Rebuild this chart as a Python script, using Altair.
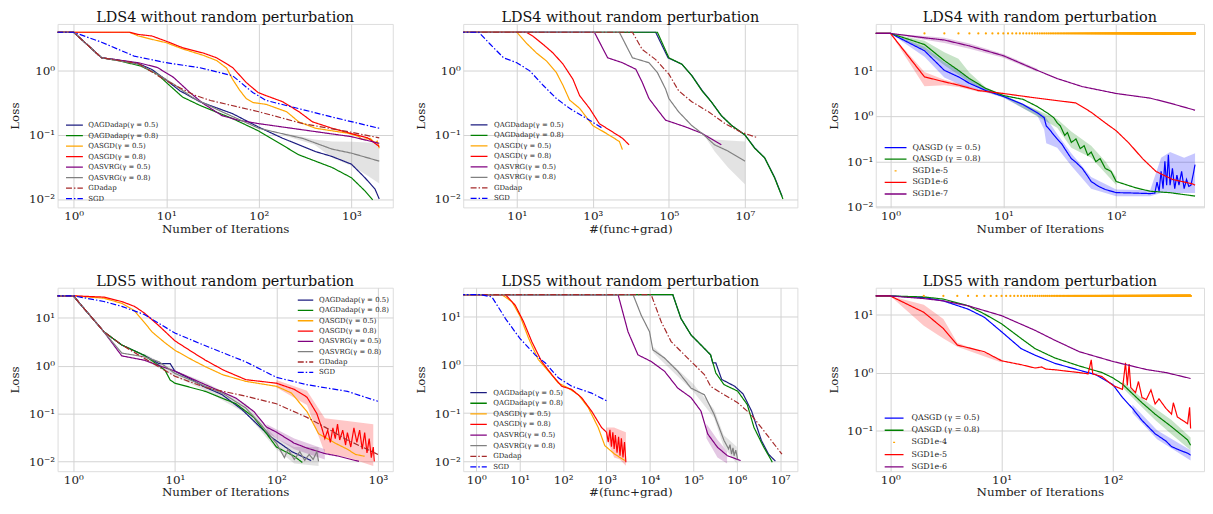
import altair as alt
import pandas as pd

FONT = "DejaVu Serif"

NAMES_A = ["QAGDadap(γ = 0.5)", "QAGDadap(γ = 0.8)", "QASGD(γ = 0.5)", "QASGD(γ = 0.8)",
           "QASVRG(γ = 0.5)", "QASVRG(γ = 0.8)", "GDadap", "SGD"]
COLORS_A = ["#1c1c80", "#008000", "#ffa500", "#ff0000", "#800080", "#808080", "#a52a2a", "#0000ff"]
DASHES_A = [[1, 0]] * 6 + [[6, 2, 1.5, 2]] * 2

NAMES_3 = ["QASGD (γ = 0.5)", "QASGD (γ = 0.8)", "SGD1e-5", "SGD1e-6", "SGD1e-7"]
NAMES_6 = ["QASGD (γ = 0.5)", "QASGD (γ = 0.8)", "SGD1e-4", "SGD1e-5", "SGD1e-6"]
COLORS_B = ["#0000ff", "#008000", "#ffa500", "#ff0000", "#800080"]
DASHES_B3 = [[1, 0], [1, 0], [0, 10, 2, 40], [1, 0], [1, 0]]
DASHES_B6 = [[1, 0], [1, 0], [0, 8.5, 2, 40], [1, 0], [1, 0]]

P1_QAGD05 = [(0.5, 4.0), (1, 4.0), (2, 1.6), (3, 1.48), (5, 1.3), (7, 1.05), (10, 0.72), (14, 0.49), (23, 0.33),
             (52, 0.215), (98, 0.134), (180, 0.089), (410, 0.055), (620, 0.046), (1000, 0.035), (1400, 0.0215),
             (1800, 0.0143), (2000, 0.0100)]
P1_QAGD08 = [(0.5, 4.0), (1, 4.0), (2, 1.6), (3, 1.45), (5.3, 1.19), (8, 0.89), (10, 0.66), (15, 0.39), (23, 0.29),
             (52, 0.18), (100, 0.115), (270, 0.049), (620, 0.031), (1000, 0.0215), (1400, 0.0134), (1700, 0.0097)]
P1_QASGD05 = [(0.5, 4.0), (4, 4.0), (5, 3.5), (7, 3.1), (10, 2.75), (15, 2.2), (25, 1.75), (35, 1.45), (45, 1.1),
              (52, 0.74), (62, 0.5), (73, 0.37), (87, 0.32), (120, 0.3), (200, 0.23), (270, 0.16), (410, 0.127),
              (930, 0.106), (1200, 0.095), (1300, 0.085), (1600, 0.088), (1800, 0.075), (1900, 0.08), (2000, 0.062)]
P1_QASGD08 = [(0.5, 4.0), (4, 4.0), (5, 3.7), (7, 3.5), (10, 2.9), (15, 2.3), (25, 1.9), (35, 1.6), (52, 1.13),
              (73, 0.66), (98, 0.46), (120, 0.41), (181, 0.33), (272, 0.23), (380, 0.16), (620, 0.127),
              (1000, 0.105), (1500, 0.09), (2000, 0.066)]
P1_QASVRG05 = [(0.5, 4.0), (1, 4.0), (2, 1.6), (5, 1.34), (8, 1.13), (12, 0.79), (18, 0.46), (25, 0.31), (40, 0.2),
               (60, 0.17), (100, 0.15), (300, 0.12), (1000, 0.094), (2000, 0.074)]
P1_QASVRG08 = [(0.5, 4.0), (1, 4.0), (2, 1.6), (5, 1.27), (8, 0.89), (12, 0.62), (20, 0.37), (40, 0.23),
               (100, 0.127), (300, 0.088), (620, 0.06), (1000, 0.052), (2000, 0.039)]
P1_GDADAP = [(0.5, 4.0), (1, 4.0), (2, 1.6), (5, 1.3), (10, 0.7), (20, 0.42), (30, 0.345), (100, 0.23), (300, 0.15),
             (1000, 0.11), (2000, 0.09)]
P1_SGD = [(0.5, 4.0), (1, 4.0), (2, 2.8), (4.5, 1.7), (10, 1.34), (23, 1.12), (52, 0.84), (86, 0.46), (120, 0.345),
          (272, 0.257), (620, 0.19), (2000, 0.127)]
P1_BAND_QASVRG08 = [(200, 0.095, 0.105), (400, 0.07, 0.085), (620, 0.044, 0.079), (1000, 0.033, 0.078),
                    (1500, 0.023, 0.076), (2000, 0.0175, 0.074)]

P2_QAGD05 = [(0.3, 4.0), (45000, 4.0), (9.5e4, 1.6), (2.2e5, 1.27), (4e5, 0.85), (7.4e5, 0.5), (1.3e6, 0.33),
             (2.4e6, 0.2), (4.5e6, 0.14), (1e7, 0.1), (1.8e7, 0.063), (3.3e7, 0.044), (6e7, 0.022), (9.5e7, 0.011)]
P2_QAGD08 = [(0.3, 4.0), (50000, 4.0), (1e5, 1.6), (2.2e5, 1.27), (4e5, 0.84), (7.4e5, 0.49), (1.3e6, 0.33),
             (2.4e6, 0.2), (4.5e6, 0.14), (1e7, 0.1), (1.8e7, 0.062), (3.3e7, 0.044), (6e7, 0.0215), (1e8, 0.01)]
P2_QASGD05 = [(0.3, 4.0), (10, 4.0), (18, 2.7), (33, 1.9), (61, 1.42), (110, 0.94), (165, 0.59), (245, 0.35),
              (450, 0.26), (1000, 0.14), (2250, 0.106), (5000, 0.079), (6000, 0.059)]
P2_QASGD08 = [(0.3, 4.0), (18, 4.0), (27, 3.45), (50, 2.57), (90, 1.9), (165, 1.27), (300, 0.74), (450, 0.41),
              (820, 0.26), (1480, 0.15), (2700, 0.12), (6000, 0.089), (9000, 0.07)]
P2_QASVRG05 = [(0.3, 4.0), (1100, 4.0), (2450, 1.6), (6000, 1.34), (13500, 1.06), (20000, 0.66), (30000, 0.37),
               (55000, 0.23), (82000, 0.17), (2.7e5, 0.134), (7.4e5, 0.106), (2.4e6, 0.07)]
P2_QASVRG08 = [(0.3, 4.0), (5000, 4.0), (11000, 1.6), (30000, 1.34), (50000, 0.94), (82000, 0.52), (1e5, 0.37),
               (1.8e5, 0.23), (4e5, 0.14), (7.4e5, 0.106), (1.6e6, 0.07), (3.6e6, 0.056), (1e7, 0.039)]
P2_GDADAP = [(0.3, 4.0), (11000, 4.0), (20000, 2.15), (45000, 1.5), (1e5, 0.89), (1.8e5, 0.49), (4e5, 0.33),
             (1.1e6, 0.23), (3e6, 0.15), (8e6, 0.11), (2.2e7, 0.09)]
P2_SGD = [(0.3, 4.0), (1, 4.0), (2, 2.6), (4.5, 1.6), (10, 1.34), (22, 1.0), (50, 0.59), (110, 0.37), (245, 0.26),
          (820, 0.17), (1800, 0.127)]
P2_BAND_QASVRG08 = [(1e6, 0.085, 0.1), (1.6e6, 0.055, 0.085), (3.6e6, 0.031, 0.082), (1e7, 0.017, 0.079)]

P3_QASGD05 = [(0.5, 65), (1, 65), (2, 27), (3, 10), (4, 7.2), (5, 5.2), (7, 3.6), (10, 2.67), (15, 1.77), (20, 1.17),
              (23, 0.91), (24, 0.6), (26, 0.48), (28, 0.38), (30, 0.31), (33, 0.24), (35, 0.19), (40, 0.115),
              (44, 0.095), (50, 0.07), (55, 0.05), (60, 0.036), (70, 0.028), (80, 0.024), (100, 0.0205),
              (150, 0.02), (200, 0.0195), (220, 0.02), (230, 0.035), (240, 0.022), (250, 0.06), (260, 0.025),
              (270, 0.1), (280, 0.03), (290, 0.14), (300, 0.03), (315, 0.07), (330, 0.025), (345, 0.05),
              (360, 0.03), (380, 0.06), (400, 0.025), (420, 0.04), (440, 0.028), (460, 0.03), (480, 0.05),
              (500, 0.085)]
P3_QASGD08 = [(0.5, 65), (1, 65), (2, 37), (3, 16.4), (4, 10), (5, 6.6), (7, 4.0), (10, 2.8), (15, 2.3), (20, 1.6),
              (25, 1.12), (28, 0.91), (30, 0.7), (32, 0.6), (35, 0.37), (37, 0.43), (40, 0.26), (44, 0.31),
              (48, 0.19), (52, 0.22), (56, 0.136), (60, 0.16), (66, 0.098), (72, 0.115), (80, 0.07), (90, 0.06),
              (100, 0.036), (150, 0.026), (200, 0.022), (300, 0.0204), (500, 0.0172)]
P3_SGD6 = [(0.5, 65), (1, 65), (2, 7.2), (3, 5.6), (4, 4.75), (6, 3.6), (10, 3.1), (20, 2.45), (44, 1.92),
           (60, 1.2), (80, 0.7), (100, 0.47), (130, 0.25), (171, 0.115), (225, 0.06), (315, 0.04), (472, 0.032),
           (500, 0.03)]
P3_SGD7 = [(0.5, 65), (1, 65), (2, 52), (3, 46.5), (5, 34.5), (10, 21), (20, 10), (30, 6.6), (50, 4.4), (100, 3.1),
           (200, 2.45), (300, 1.9), (500, 1.33)]
P3_SGD5_ITERS = list(range(2, 501))
P3_SGD5_LOSS = 65
P3_BAND_QASGD05 = [(1, 65, 65), (2, 20, 33), (3, 7, 15), (4, 5, 10), (5, 4.2, 6.5), (7, 3.3, 4), (10, 2.5, 2.9),
                   (20, 1.0, 1.3), (23, 0.5, 1.0), (24, 0.25, 0.9), (30, 0.2, 0.4), (40, 0.08, 0.15),
                   (60, 0.025, 0.045), (100, 0.017, 0.024), (200, 0.017, 0.023), (250, 0.02, 0.12),
                   (300, 0.02, 0.16), (400, 0.02, 0.12), (500, 0.02, 0.15)]
P3_BAND_QASGD08 = [(1, 65, 65), (2, 28, 45), (3, 13, 25), (4, 8, 18), (5, 5.5, 9), (7, 3.4, 4.2), (10, 2.6, 2.9),
                   (30, 0.55, 0.85), (40, 0.2, 0.45), (60, 0.12, 0.22), (80, 0.055, 0.1), (100, 0.03, 0.045)]
P3_BAND_SGD6 = [(1, 65, 65), (2, 4.5, 9.2), (3, 4.7, 6.2), (4, 4.3, 5.2), (6, 3.4, 3.8), (10, 3.0, 3.2)]
P3_BAND_SGD7 = [(1, 65, 65), (2, 47, 57), (3, 40, 52), (5, 30, 39), (10, 19, 23), (20, 9.3, 10.8)]

P4_QAGD05 = [(0.5, 28.7), (1, 28.7), (2, 5.1), (3, 2.7), (5, 1.64), (7, 1.1), (9, 1.1), (10, 0.77), (15, 0.5),
             (19, 0.37), (29, 0.25), (46, 0.12), (84, 0.035), (142, 0.016), (220, 0.0104)]
P4_QAGD08 = [(0.5, 28.7), (1, 28.7), (2, 5.1), (3, 2.7), (5, 1.64), (7, 1.0), (8, 0.8), (9, 0.5), (10, 0.43),
             (20, 0.29), (40, 0.16), (60, 0.083), (80, 0.038), (100, 0.02), (150, 0.0128), (180, 0.0095)]
P4_QASGD05 = [(0.5, 28.7), (1, 28.7), (2, 25.6), (3, 20), (4, 14), (5, 8), (6, 5), (7, 3.8), (8, 3.0), (10, 2.1),
              (15, 1.3), (20, 0.95), (30, 0.64), (50, 0.47), (100, 0.37), (140, 0.27), (200, 0.11), (260, 0.038),
              (380, 0.024), (500, 0.018), (600, 0.014), (740, 0.0128)]
P4_QASGD08 = [(0.5, 28.7), (1, 28.7), (2, 27), (3, 21.8), (4, 17.3), (5, 12.6), (7, 6.75), (10, 3.3), (15, 1.9),
              (20, 1.3), (30, 0.81), (50, 0.51), (100, 0.43), (150, 0.32), (200, 0.22), (250, 0.1), (280, 0.05),
              (300, 0.03), (320, 0.045), (340, 0.025), (360, 0.05), (380, 0.03), (400, 0.06), (420, 0.028),
              (450, 0.045), (480, 0.022), (500, 0.04), (540, 0.02), (580, 0.05), (620, 0.025), (660, 0.045),
              (700, 0.018), (740, 0.04), (780, 0.015), (820, 0.03), (860, 0.012), (900, 0.02), (920, 0.01)]
P4_QASVRG05 = [(0.5, 28.7), (1, 28.7), (2, 5.1), (3, 1.6), (5, 1.3), (7, 1.0), (10, 0.77), (20, 0.4), (40, 0.21),
               (60, 0.11), (80, 0.052), (100, 0.041), (150, 0.024), (200, 0.019), (300, 0.0146), (400, 0.013),
               (650, 0.01)]
P4_QASVRG08 = [(0.5, 28.7), (1, 28.7), (2, 5.1), (3, 1.83), (5, 1.53), (7, 1.2), (10, 0.69), (20, 0.37), (30, 0.26),
               (50, 0.13), (70, 0.06), (100, 0.024), (120, 0.012), (130, 0.018), (150, 0.011), (170, 0.016),
               (190, 0.0105), (210, 0.014), (230, 0.011), (250, 0.016), (260, 0.01)]
P4_GDADAP = [(0.5, 28.7), (1, 28.7), (2, 5.1), (3, 2.7), (10, 0.6), (20, 0.35), (30, 0.29), (50, 0.23), (100, 0.16),
             (200, 0.083), (300, 0.052), (500, 0.028), (1000, 0.014)]
P4_SGD = [(0.5, 28.7), (1, 28.7), (2, 21.9), (3, 17.3), (5, 11.7), (10, 4.8), (20, 2.6), (50, 1.2), (100, 0.57),
          (200, 0.4), (500, 0.29), (1000, 0.18)]
P4_BAND_QASGD08 = [(100, 0.35, 0.5), (200, 0.15, 0.3), (300, 0.015, 0.08), (500, 0.012, 0.07), (900, 0.008, 0.06)]
P4_BAND_QASVRG08 = [(5, 1.3, 1.8), (10, 0.6, 0.8), (20, 0.3, 0.45), (50, 0.1, 0.16), (100, 0.018, 0.03),
                    (150, 0.009, 0.02), (260, 0.008, 0.02)]
P4_BAND_QASVRG05 = [(80, 0.04, 0.06), (150, 0.018, 0.03), (300, 0.011, 0.018)]

P5_QAGD05 = [(0.4, 28.8), (33700, 28.8), (52000, 9.2), (88500, 4.2), (1.5e5, 2.6), (2.5e5, 1.62), (2.8e5, 1.1),
             (3.3e5, 1.1), (4.5e5, 0.5), (9e5, 0.36), (1.4e6, 0.25), (2.2e6, 0.11), (3.7e6, 0.027), (5.4e6, 0.014),
             (7.8e6, 0.01)]
P5_QAGD08 = [(0.4, 28.8), (33700, 28.8), (52000, 9.2), (88500, 4.2), (1.5e5, 2.6), (2.5e5, 1.62), (3.3e5, 0.68),
             (5.1e5, 0.39), (1.05e6, 0.286), (1.75e6, 0.15), (2.5e6, 0.05), (4.2e6, 0.0195), (6e6, 0.0112),
             (6.6e6, 0.0095)]
P5_QASGD05 = [(0.4, 28.8), (3.9, 28.8), (6.7, 20.4), (10.4, 10), (16, 3.6), (27, 1.28), (46, 0.74), (78, 0.42),
              (132, 0.33), (225, 0.24), (380, 0.13), (645, 0.05), (915, 0.021), (1550, 0.014), (2640, 0.0103)]
P5_QASGD08 = [(0.4, 28.8), (4.7, 28.8), (7.9, 17.4), (12.3, 7.9), (19, 3.06), (32, 1.18), (55, 0.63), (93, 0.36),
              (158, 0.31), (266, 0.21), (453, 0.11), (770, 0.05), (1000, 0.04), (1100, 0.025), (1200, 0.045),
              (1300, 0.02), (1400, 0.04), (1500, 0.018), (1600, 0.035), (1750, 0.015), (1900, 0.032),
              (2050, 0.013), (2200, 0.03), (2400, 0.012), (2600, 0.025), (2800, 0.0095)]
P5_QASVRG05 = [(0.4, 28.8), (1850, 28.8), (3130, 4.9), (5300, 1.62), (10700, 1.18), (21700, 0.74), (43900, 0.33),
               (88500, 0.21), (1.5e5, 0.11), (2.14e5, 0.037), (3.6e5, 0.0195), (6.1e5, 0.013), (1.23e6, 0.0103)]
P5_QASVRG08 = [(0.4, 28.8), (4100, 28.8), (6300, 10.8), (9800, 4.9), (11700, 2.06), (21700, 1.39), (43900, 0.74),
               (88500, 0.33), (1.8e5, 0.24), (3e5, 0.095), (5.1e5, 0.027), (6.5e5, 0.018), (7e5, 0.022),
               (7.6e5, 0.014), (8.2e5, 0.019), (8.7e5, 0.013), (9.5e5, 0.017), (1.05e6, 0.011)]
P5_GDADAP = [(0.4, 28.8), (10700, 28.8), (18200, 7.9), (30800, 3.06), (74000, 1.39), (1.8e5, 0.63), (2.5e5, 0.36),
             (5.1e5, 0.24), (1.05e6, 0.164), (2.1e6, 0.095), (4.2e6, 0.043), (1.1e7, 0.014)]
P5_SGD = [(0.4, 28.8), (1.3, 28.8), (2.3, 25.8), (4.7, 9.2), (10, 3.6), (23, 1.6), (39, 1.1), (78, 0.54),
          (158, 0.36), (453, 0.26), (1000, 0.18)]
P5_BAND_QASGD08 = [(1000, 0.03, 0.05), (1500, 0.012, 0.05), (2000, 0.011, 0.045), (2800, 0.008, 0.04)]
P5_BAND_QASVRG05 = [(2e5, 0.03, 0.06), (3.6e5, 0.012, 0.028), (6e5, 0.009, 0.016)]
P5_BAND_QASVRG08 = [(1.2e4, 1.8, 2.4), (1e5, 0.28, 0.4), (3e5, 0.08, 0.12), (5e5, 0.02, 0.035), (1e6, 0.009, 0.02)]

P6_QASGD05 = [(0.5, 21.3), (1, 21.3), (2, 20), (3, 17.5), (5, 12.6), (7, 9.1), (10, 5.1), (15, 2.6), (20, 2.0),
              (30, 1.45), (50, 1.1), (70, 0.92), (100, 0.62), (122, 0.37), (150, 0.24), (183, 0.148),
              (240, 0.087), (300, 0.065), (337, 0.052), (400, 0.045), (470, 0.04), (500, 0.037)]
P6_QASGD08 = [(0.5, 21.3), (1, 21.3), (2, 20.5), (3, 18.8), (5, 14.4), (7, 10.4), (10, 7.0), (15, 3.9), (20, 2.6),
              (30, 1.8), (50, 1.3), (80, 1.0), (100, 0.81), (122, 0.63), (183, 0.3), (240, 0.19), (337, 0.115),
              (470, 0.068), (500, 0.055)]
P6_SGD5 = [(0.5, 21.3), (1, 21.3), (2, 11.1), (3, 5.8), (4, 3.0), (5, 2.7), (7, 2.3), (10, 1.6), (15, 1.37),
           (20, 1.2), (23, 1.25), (25, 1.15), (30, 1.12), (40, 1.05), (50, 1.0), (60, 0.95), (64, 1.66),
           (66, 0.95), (80, 0.85), (100, 0.6), (122, 0.51), (130, 1.48), (135, 0.6), (140, 1.4), (145, 0.55),
           (160, 0.45), (170, 0.7), (183, 0.37), (200, 0.34), (220, 0.5), (240, 0.285), (260, 0.35), (300, 0.24),
           (337, 0.19), (350, 0.3), (380, 0.17), (420, 0.15), (470, 0.13), (490, 0.25), (500, 0.107)]
P6_SGD6 = [(0.5, 21.3), (1, 21.3), (2, 19.2), (3, 17.5), (5, 14.4), (10, 9.7), (20, 5.4), (30, 3.65), (50, 2.3),
           (100, 1.56), (200, 1.13), (300, 1.0), (500, 0.79)]
P6_SGD4_ITERS = list(range(2, 501))
P6_SGD4_LOSS = 21.3
P6_BAND_SGD5 = [(1, 21.3, 21.3), (2, 6.5, 15), (3, 3.9, 8.5), (4, 2.8, 3.3), (10, 1.5, 1.7)]
P6_BAND_QASGD05 = [(150, 0.2, 0.28), (250, 0.07, 0.1), (500, 0.03, 0.045)]
P6_BAND_QASGD08 = [(122, 0.55, 0.7), (183, 0.25, 0.36), (240, 0.15, 0.24), (337, 0.085, 0.15), (500, 0.045, 0.075)]

SUP = {"-": "⁻", "0": "⁰", "1": "¹", "2": "²", "3": "³", "4": "⁴", "5": "⁵", "6": "⁶", "7": "⁷", "8": "⁸", "9": "⁹"}


def log_label_expr(exps):
    out = ""
    for e in exps:
        lab = "10" + "".join(SUP[c] for c in str(e))
        out += f"round(log(datum.value)/LN10) == {e} ? '{lab}' : "
    return out + "''"


def panel(title, names, colors, dashes, lines, bands, dots, xdom, ydom, xexps, yexps, xtitle,
          leg, width):
    rows = [{"x": x, "y": y, "s": n} for n, pts in lines for x, y in pts]
    df = pd.DataFrame(rows)
    xs = alt.Scale(type="log", domain=xdom, nice=False)
    ys = alt.Scale(type="log", domain=ydom, nice=False)
    xax = alt.Axis(values=[10.0 ** e for e in xexps], labelExpr=log_label_expr(xexps), title=xtitle,
                   grid=True, gridColor="#d2d2d2", gridWidth=1, ticks=False, domain=False,
                   labelFont=FONT, labelFontSize=12, labelPadding=3, labelColor="#222",
                   titleFont=FONT, titleFontSize=12, titleFontWeight="normal", titlePadding=2,
                   titleColor="#222", labelFlush=False)
    yax = alt.Axis(values=[10.0 ** e for e in yexps], labelExpr=log_label_expr(yexps), title="Loss",
                   grid=True, gridColor="#d2d2d2", gridWidth=1, ticks=False, domain=False,
                   labelFont=FONT, labelFontSize=12, labelPadding=3, labelColor="#222",
                   titleFont=FONT, titleFontSize=12, titleFontWeight="normal", titlePadding=6,
                   titleColor="#222", minExtent=30, maxExtent=30, labelFlush=False)
    lx, ly, half, loff, fs, rpad = leg
    q = half / 2
    legend = alt.Legend(title=None, orient="none", legendX=lx, legendY=ly, symbolType=f"M-{q},0L{q},0",
                        symbolSize=16, symbolStrokeWidth=1.3, labelFont=FONT, labelFontSize=fs,
                        labelColor="#222", labelOffset=loff, rowPadding=rpad, padding=0, labelLimit=300)
    layers = []
    cmap = dict(zip(names, colors))
    for n, pts in bands:
        bdf = pd.DataFrame([{"x": x, "lo": lo, "hi": hi} for x, lo, hi in pts])
        layers.append(alt.Chart(bdf).mark_area(clip=True, fillOpacity=0.22, strokeWidth=0,
                                               color=cmap[n]).encode(
            x=alt.X("x:Q", scale=xs, axis=xax), y=alt.Y("lo:Q", scale=ys, axis=yax), y2="hi:Q"))
    layers.append(alt.Chart(df).mark_line(strokeWidth=1.2, clip=True).encode(
        x=alt.X("x:Q", scale=xs, axis=xax),
        y=alt.Y("y:Q", scale=ys, axis=yax),
        color=alt.Color("s:N", scale=alt.Scale(domain=names, range=colors), legend=legend),
        strokeDash=alt.StrokeDash("s:N", scale=alt.Scale(domain=names, range=dashes), legend=legend)))
    if dots is not None:
        ddf = pd.DataFrame({"x": dots[0], "y": [dots[1]] * len(dots[0])})
        layers.append(alt.Chart(ddf).mark_circle(size=5, opacity=1, clip=True, color="#ffa500").encode(
            x=alt.X("x:Q", scale=xs, axis=xax),
            y=alt.Y("y:Q", scale=ys, axis=yax)))
    return alt.layer(*layers).properties(
        width=width, height=185,
        title=alt.TitleParams(title, font=FONT, fontSize=14.5, fontWeight="normal", color="#111", offset=-2))


def indep(c):
    return c.resolve_scale(color="independent", strokeDash="independent",
                           x="independent", y="independent").resolve_legend(
        color="independent", strokeDash="independent")


A = NAMES_A
# legend: (legendX, legendY, symbol length, labelOffset, fontSize, rowPadding)
p1 = panel("LDS4 without random perturbation", A, COLORS_A, DASHES_A,
           list(zip(A, [P1_QAGD05, P1_QAGD08, P1_QASGD05, P1_QASGD08, P1_QASVRG05, P1_QASVRG08, P1_GDADAP, P1_SGD])),
           [(A[5], P1_BAND_QASVRG08)], None, [0.67, 2800], [0.0074, 5.4], [0, 1, 2, 3], [-2, -1, 0],
           "Number of Iterations", (13.5, 98.5, 8.5, 10.5, 7, 2.6), 338)
p2 = panel("LDS4 without random perturbation", A, COLORS_A, DASHES_A,
           list(zip(A, [P2_QAGD05, P2_QAGD08, P2_QASGD05, P2_QASGD08, P2_QASVRG05, P2_QASVRG08, P2_GDADAP, P2_SGD])),
           [(A[5], P2_BAND_QASVRG08)], None, [0.39, 2.4e8], [0.0074, 5.4], [1, 3, 5, 7], [-2, -1, 0],
           "#(func+grad)", (12.5, 98.3, 8.5, 11.5, 7, 2.6), 337)
p3 = panel("LDS4 with random perturbation", NAMES_3, COLORS_B, DASHES_B3,
           list(zip([NAMES_3[0], NAMES_3[1], NAMES_3[3], NAMES_3[4]], [P3_QASGD05, P3_QASGD08, P3_SGD6, P3_SGD7])),
           [(NAMES_3[0], P3_BAND_QASGD05), (NAMES_3[1], P3_BAND_QASGD08), (NAMES_3[3], P3_BAND_SGD6),
            (NAMES_3[4], P3_BAND_SGD7)],
           (P3_SGD5_ITERS, P3_SGD5_LOSS), [0.74, 600], [0.0097, 105], [0, 1, 2], [-2, -1, 0, 1],
           "Number of Iterations", (16, 120.7, 11, 13, 8, 3.7), 331)
p4 = panel("LDS5 without random perturbation", A, COLORS_A, DASHES_A,
           list(zip(A, [P4_QAGD05, P4_QAGD08, P4_QASGD05, P4_QASGD08, P4_QASVRG05, P4_QASVRG08, P4_GDADAP, P4_SGD])),
           [(A[3], P4_BAND_QASGD08), (A[5], P4_BAND_QASVRG08), (A[4], P4_BAND_QASVRG05)], None,
           [0.7, 1400], [0.00625, 42.4], [0, 1, 2, 3], [-2, -1, 0, 1],
           "Number of Iterations", (246.5, 9, 7.8, 10.2, 7, 2.4), 338)
p5 = panel("LDS5 without random perturbation", A, COLORS_A, DASHES_A,
           list(zip(A, [P5_QAGD05, P5_QAGD08, P5_QASGD05, P5_QASGD08, P5_QASVRG05, P5_QASVRG08, P5_GDADAP, P5_SGD])),
           [(A[3], P5_BAND_QASGD08), (A[4], P5_BAND_QASVRG05), (A[5], P5_BAND_QASVRG08)], None,
           [0.5, 2.5e7], [0.0062, 40.2], [0, 1, 2, 3, 4, 5, 6, 7], [-2, -1, 0, 1],
           "#(func+grad)", (12, 102.3, 8.3, 11.3, 7, 2.7), 337)
p6 = panel("LDS5 with random perturbation", NAMES_6, COLORS_B, DASHES_B6,
           list(zip([NAMES_6[0], NAMES_6[1], NAMES_6[3], NAMES_6[4]], [P6_QASGD05, P6_QASGD08, P6_SGD5, P6_SGD6])),
           [(NAMES_6[3], P6_BAND_SGD5), (NAMES_6[0], P6_BAND_QASGD05), (NAMES_6[1], P6_BAND_QASGD08)],
           (P6_SGD4_ITERS, P6_SGD4_LOSS), [0.74, 660], [0.0195, 29.6], [0, 1, 2], [-1, 0, 1],
           "Number of Iterations", (14.5, 127.4, 9.5, 13.5, 8, 4.3), 331)

R = 39
col1 = indep(alt.vconcat(p1, p4, spacing=R))
col2 = indep(alt.vconcat(p2, p5, spacing=R))
col3 = indep(alt.vconcat(p3, p6, spacing=R))
inner = indep(alt.hconcat(col1, col2, spacing=20))
chart = indep(alt.hconcat(inner, col3, spacing=28)).properties(padding=0)
chart = chart.configure_view(stroke="#222", strokeWidth=1).configure(background="white")

chart.save("out.html", embed_options={"renderer": "svg", "actions": False})
